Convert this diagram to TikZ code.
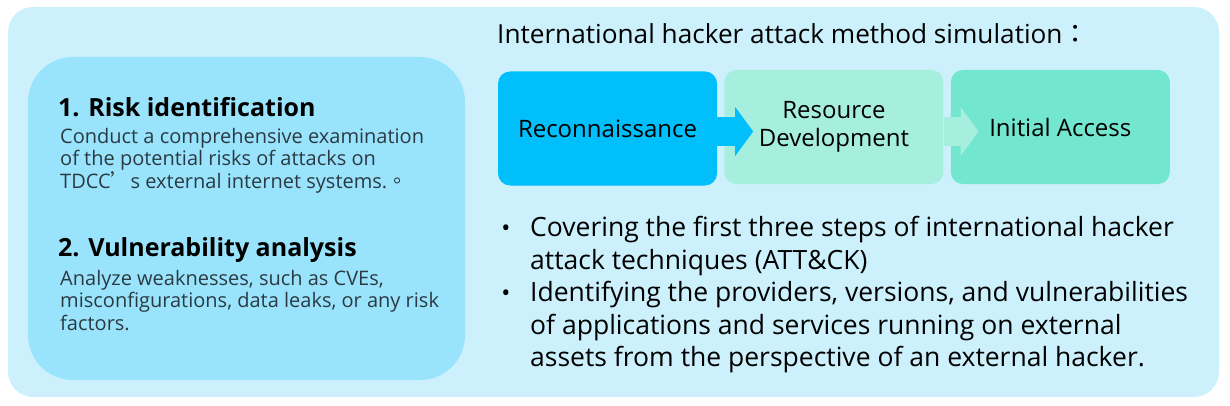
\documentclass[tikz,border=0pt]{standalone}
\usepackage{fontspec}
\setmainfont{Open Sans}
\newfontfamily\cjk{Noto Sans CJK TC}
\usepackage{xcolor}
\usetikzlibrary{arrows.meta,positioning}
\definecolor{panelbg}{HTML}{CCF1FD}
\definecolor{riskbg}{HTML}{99E4FC}
\definecolor{reconbg}{HTML}{00BFFA}
\definecolor{resdevbg}{HTML}{A6EFDF}
\definecolor{accessbg}{HTML}{72E6CE}
\definecolor{bodytext}{HTML}{2B3A42}

\begin{document}
\begin{tikzpicture}[
    x=1pt, y=1pt,
    node distance=7pt,
    phase/.style={rounded corners=12pt, minimum width=219pt, minimum height=114pt, align=center, inner sep=0pt,
      font=\fontsize{24}{28}\selectfont},
    flow/.style={line width=28pt, -{Triangle[length=18pt, width=48pt]}},
    heading/.style={anchor=base west, inner sep=0pt, font=\fontsize{25}{30}\selectfont\bfseries},
    detail/.style={anchor=base west, inner sep=0pt, align=left, text=bodytext, font=\fontsize{20}{22.5}\selectfont},
    point/.style={anchor=base west, inner sep=0pt, align=left, font=\fontsize{26.5}{32.5}\selectfont}
  ]
    \useasboundingbox (0,0) rectangle (1230,405);
    \fill[panelbg, rounded corners=25pt] (8,8) rectangle (1219,398);
    \fill[riskbg, rounded corners=45pt] (28,25) rectangle (465,348);

    % base anchor of a multi-line node sits on its last line
    \node[heading] (risk) at (58,288.3) {1. Risk identification};
    \node[detail] (riskdesc) at (60,216.7) {Conduct a comprehensive examination\\
      of the potential risks of attacks on\\
      TDCC{\cjk ’}s external internet systems.{\cjk 。}};
    \node[heading] (vuln) at (58,148.3) {2. Vulnerability analysis};
    \node[detail] (vulndesc) at (60,75) {Analyze weaknesses, such as CVEs,\\
      misconfigurations, data leaks, or any risk\\
      factors.};

    \node[anchor=base west, inner sep=0pt, font=\fontsize{26.2}{30}\selectfont] (simtitle) at (497,361.7)
      {International hacker attack method simulation{\cjk ：}};

    \node[phase, fill=reconbg] (recon) at (607.5,276.5) {Reconnaissance};
    \node[phase, fill=resdevbg, right=of recon, yshift=1.5pt] (resdev) {Resource\\Development};
    \node[phase, fill=accessbg, right=of resdev] (access) {Initial Access};

    \draw[flow, reconbg] ([yshift=-3pt]recon.east) -- ([xshift=29pt, yshift=-4.5pt]resdev.west);
    \draw[flow, resdevbg] ([yshift=-4.5pt]resdev.east) -- ([xshift=28pt, yshift=-4.5pt]access.west);

    \node[point] (covering) at (530,135.8) {Covering the first three steps of international hacker\\
      attack techniques (ATT\&CK)};
    \node[point] (identify) at (530,38.3) {Identifying the providers, versions, and vulnerabilities\\
      of applications and services running on external\\
      assets from the perspective of an external hacker.};
    \node[anchor=base, inner sep=0pt, font=\fontsize{24}{30}\selectfont] (dot1) at (506,168.3) {•};
    \node[anchor=base, inner sep=0pt, font=\fontsize{24}{30}\selectfont] (dot2) at (506,103.3) {•};
  \end{tikzpicture}
\end{document}
